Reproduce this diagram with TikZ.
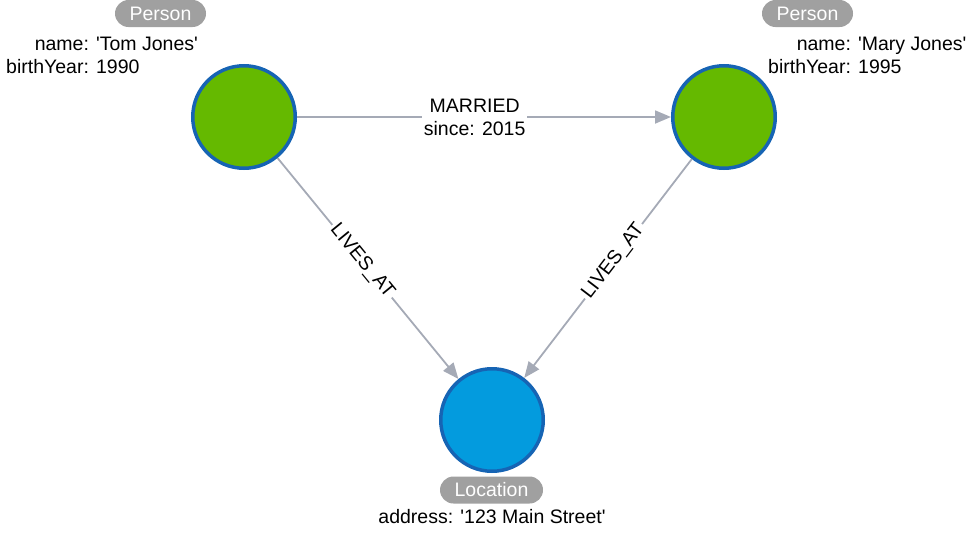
\documentclass[tikz,border=0pt]{standalone}
\usepackage{fontspec}
\setmainfont{Liberation Sans}
\usetikzlibrary{arrows.meta}

\definecolor{nodegreen}{RGB}{101,185,0}
\definecolor{nodeblue}{RGB}{3,155,222}
\definecolor{ringblue}{RGB}{22,100,180}
\definecolor{relgrey}{RGB}{165,170,182}
\definecolor{badgegrey}{RGB}{160,160,160}

\newcommand{\sq}{\textquotesingle}

\begin{document}
\begin{tikzpicture}[x=1pt, y=-1pt,
        every node/.style={font=\fontsize{19.5}{23}\selectfont},
        entity/.style={circle, draw=ringblue, line width=3.5pt, minimum size=102.5pt, inner sep=0pt},
        badge/.style={fill=badgegrey, text=white, rounded corners=13.5pt, minimum height=27pt, inner sep=0pt},
        rel/.style={draw=relgrey, line width=1.8pt, -{Triangle[length=16pt, width=13pt]}},
        rellabel/.style={fill=white, inner xsep=2pt, inner ysep=1pt}]
        \useasboundingbox (0, 0) rectangle (975, 533);

        \node[entity, fill=nodegreen] (tom) at (244, 117) {};
        \node[entity, fill=nodegreen] (mary) at (724, 117) {};
        \node[entity, fill=nodeblue] (home) at (492, 420) {};

        \node[badge, minimum width=91pt] (tombadge) at (160.5, 13.5) {Person};
        \node[badge, minimum width=91pt] (marybadge) at (807.5, 13.5) {Person};
        \node[badge, minimum width=103pt] (homebadge) at (491.5, 490) {Location};

        \node[inner sep=0pt, anchor=base west] (tomprops) at (6, 50) {\begin{tabular}[t]{@{}r@{ }l@{}}name: & \sq Tom Jones\sq \\ birthYear: & 1990\end{tabular}};
        \node[inner sep=0pt, anchor=base west] (maryprops) at (768, 50) {\begin{tabular}[t]{@{}r@{ }l@{}}name: & \sq Mary Jones\sq \\ birthYear: & 1995\end{tabular}};
        \node[inner sep=0pt, anchor=base] (homeprops) at (492, 523) {address: \sq 123 Main Street\sq};

        \begin{scope}[rel]
            \draw (tom) -- node[rellabel, pos=.475, align=center] {MARRIED \\ since: 2015} (mary);
            \draw (tom) -- node[rellabel, sloped, pos=.467] {LIVES\_AT} (home);
            \draw (mary) -- node[rellabel, sloped, pos=.467] {LIVES\_AT} (home);
        \end{scope}
    \end{tikzpicture}
\end{document}
